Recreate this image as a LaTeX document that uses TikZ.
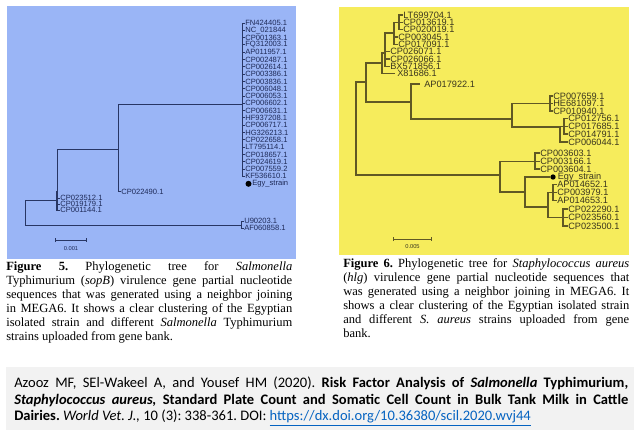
\documentclass[tikz,border=0pt]{standalone}
\usepackage{fontspec}
\usetikzlibrary{arrows.meta}
\setmainfont{Liberation Serif}
\newfontfamily\treefont{Liberation Sans}
\newfontfamily\citefont{Carlito}
\frenchspacing

\definecolor{panelblue}{RGB}{154,181,246}
\definecolor{panelyellow}{RGB}{246,236,92}
\definecolor{navyline}{RGB}{40,54,100}
\definecolor{navytext}{RGB}{30,42,88}
\definecolor{oliveline}{RGB}{96,88,36}
\definecolor{olivetext}{RGB}{58,54,30}
\definecolor{citegray}{RGB}{242,242,242}
\definecolor{linkblue}{RGB}{5,99,193}

\tikzset{
  bleaf/.style={font=\treefont\fontsize{5.7}{6}\selectfont, text=navytext, anchor=west, inner sep=0pt},
  yleaf/.style={font=\treefont\fontsize{6.9}{7}\selectfont, text=olivetext, anchor=west, inner sep=0pt},
  bbranch/.style={draw=navyline, line width=0.7pt},
  ybranch/.style={draw=oliveline, line width=0.9pt},
  egydot/.style={circle, fill=black, inner sep=0pt, minimum size=#1},
  scalebar/.style={{Bar[width=3pt]}-{Bar[width=3pt]}, line width=0.6pt},
  caption/.style={anchor=north west, inner sep=0pt, text width=214.5pt, align=justify,
    font=\fontsize{9.4}{10.5}\selectfont},
}

\begin{document}
\begin{tikzpicture}[x=0.75pt, y=-0.75pt]
	\useasboundingbox (0,0) rectangle (640,433);
	%draw panels
	\fill[panelblue] (7,6) rectangle (296,259);
	\fill[panelyellow] (339,7) rectangle (629,255);
	\fill[citegray] (6,367) rectangle (634,430);

	%Salmonella tree: leaves
	\foreach \lab [count=\i from 0] in {FN424405.1,NC\_021844,CP001363.1,FQ312003.1,AP011957.1,CP002487.1,CP002614.1,CP003386.1,CP003836.1,CP006048.1,CP006053.1,CP006602.1,CP006631.1,HF937208.1,CP006717.1,HG326213.1,CP022658.1,LT795114.1,CP018657.1,CP024619.1,CP007559.2,KF536610.1}
		\node[bleaf] (s\i) at (245,{23+7.3*\i}) {\lab};
	\node[egydot=4.5pt] (sdot) at (248.5,183.8) {};
	\node[bleaf] (segy) at (252,183.8) {Egy\_strain};
	\node[bleaf] (s490) at (121,191.5) {CP022490.1};
	\foreach \lab/\yy [count=\k] in {CP023512.1/198.3,CP019179.1/204.3,CP001144.1/210.3}
		\node[bleaf] (t\k) at (60,\yy) {\lab};
	\node[bleaf] (u1) at (244,221) {U90203.1};
	\node[bleaf] (u2) at (244,228) {AF060858.1};

	%Salmonella tree: branches
	\coordinate (sA) at (242,104);
	\coordinate (sB) at (118,149);
	\coordinate (sC) at (57,200.7);
	\coordinate (sD) at (241,225.5);
	\coordinate (sR) at (25,212);
	\draw[bbranch] (sR) |- (sC);
	\draw[bbranch] (sR) |- (sD);
	\draw[bbranch] (sC) |- (sB);
	\foreach \k in {1,2,3}
		\draw[bbranch] (sC) |- (t\k.west);
	\draw[bbranch, line width=1.4pt] (56.5,191) -- (56.5,211);
	\draw[bbranch] (sB) |- (sA);
	\draw[bbranch] (sB) |- (s490.west);
	\foreach \i in {0,...,21}
		\draw[bbranch] (sA) |- (s\i.west);
	\draw[bbranch] (sD) |- (u1.west);
	\draw[bbranch] (sD) |- (u2.west);

	%Salmonella scale bar
	\coordinate (sb1) at (55,240);
	\coordinate (sb2) at (87,240);
	\draw[scalebar, navyline] (sb1) -- (sb2);
	\node[font=\treefont\fontsize{4.3}{5}\selectfont, text=navytext] (sbl) at (71,248.5) {0.001};

	%Staphylococcus tree: leaves
	\foreach \lab/\yy [count=\k] in {LT699704.1/15,CP013619.1/22.3,CP020019.1/29.6}
		\node[yleaf] (ya\k) at (403,\yy) {\lab};
	\foreach \lab/\yy [count=\k] in {CP003045.1/37,CP017091.1/44.3}
		\node[yleaf] (yb\k) at (398,\yy) {\lab};
	\foreach \lab/\yy [count=\k] in {CP026071.1/51.6,CP026066.1/58.9,BX571856.1/66.2}
		\node[yleaf] (yc\k) at (390,\yy) {\lab};
	\node[yleaf] (yx) at (397,73.8) {X81686.1};
	\node[yleaf] (yap) at (424,84) {AP017922.1};
	\foreach \lab/\yy [count=\k] in {CP007659.1/96,HE681097.1/103.5,CP010940.1/111}
		\node[yleaf] (yd\k) at (553,\yy) {\lab};
	\foreach \lab/\yy [count=\k] in {CP012756.1/118.5,CP017685.1/126.2,CP014791.1/134}
		\node[yleaf] (ye\k) at (568,\yy) {\lab};
	\node[yleaf] (yf) at (568,142) {CP006044.1};
	\foreach \lab/\yy [count=\k] in {CP003603.1/153,CP003166.1/161.3,CP003604.1/169}
		\node[yleaf] (yg\k) at (540,\yy) {\lab};
	\node[egydot=4pt] (ydot) at (553,177) {};
	\node[yleaf] (yegy) at (557.5,177) {Egy\_strain};
	\foreach \lab/\yy [count=\k] in {AP014652.1/184.5,CP003979.1/192.3,AP014653.1/200.3}
		\node[yleaf] (yh\k) at (557,\yy) {\lab};
	\foreach \lab/\yy [count=\k] in {CP022290.1/209,CP023560.1/217.5,CP023500.1/226}
		\node[yleaf] (yi\k) at (568,\yy) {\lab};

	%Staphylococcus tree: branches
	\coordinate (yR) at (356,128);
	\coordinate (yP) at (366,82);
	\coordinate (yA1) at (382,63);
	\coordinate (yA2) at (385,53);
	\coordinate (yA3) at (394,33);
	\coordinate (yA4) at (399,22.3);
	\coordinate (yB) at (411,102);
	\coordinate (yC) at (512,119);
	\coordinate (yD) at (550,103.5);
	\coordinate (yE) at (560,127);
	\coordinate (yF) at (564,126.2);
	\coordinate (yG) at (500,175);
	\coordinate (yH) at (535,161.3);
	\coordinate (yI) at (525,192);
	\coordinate (yJ) at (548,207);
	\coordinate (yK) at (553,192.3);
	\coordinate (yL) at (563,217.5);
	\draw[ybranch] (yR) |- (yP);
	\draw[ybranch] (yR) |- (yG);
	\draw[ybranch] (yP) |- (yA1);
	\draw[ybranch] (yP) |- (yB);
	\draw[ybranch] (yA1) |- (yA2);
	\draw[ybranch] (yA1) |- ([xshift=-1.5pt]yx.west);
	\draw[ybranch] (yA2) |- (yA3);
	\foreach \k in {1,2,3}
		\draw[ybranch] (yA2) |- (yc\k.west);
	\draw[ybranch] (yA3) |- (yA4);
	\foreach \k in {1,2}
		\draw[ybranch] (yA3) |- (yb\k.west);
	\foreach \k in {1,2,3}
		\draw[ybranch] (yA4) |- (ya\k.west);
	\draw[ybranch] (yB) |- ([xshift=-3pt]yap.west);
	\draw[ybranch] (yB) |- (yC);
	\draw[ybranch] (yC) |- (yD);
	\draw[ybranch] (yC) |- (yE);
	\foreach \k in {1,2,3}
		\draw[ybranch] (yD) |- (yd\k.west);
	\draw[ybranch] (yE) |- (yF);
	\draw[ybranch] (yE) |- (yf.west);
	\foreach \k in {1,2,3}
		\draw[ybranch] (yF) |- (ye\k.west);
	\draw[ybranch] (yG) |- (yH);
	\draw[ybranch] (yG) |- (yI);
	\foreach \k in {1,2,3}
		\draw[ybranch] (yH) |- (yg\k.west);
	\draw[ybranch] (yI) |- (ydot.west);
	\draw[ybranch] (yI) |- (yJ);
	\draw[ybranch] (yJ) |- (yK);
	\draw[ybranch] (yJ) |- (yL);
	\foreach \k in {1,2,3}
		\draw[ybranch] (yK) |- (yh\k.west);
	\foreach \k in {1,2,3}
		\draw[ybranch] (yL) |- (yi\k.west);

	%Staphylococcus scale bar
	\coordinate (yb1) at (393,239);
	\coordinate (yb2) at (432,239);
	\draw[scalebar, oliveline] (yb1) -- (yb2);
	\node[font=\treefont\fontsize{4.3}{5}\selectfont, text=olivetext] (ybl) at (412.5,246.5) {0.005};

	%draw captions
	\node[caption] (cap5) at (6,261.5) {\textbf{Figure 5.} Phylogenetic tree for \textit{Salmonella}\linebreak
		Typhimurium (\textit{sopB}) virulence gene partial nucleotide\linebreak
		sequences that was generated using a neighbor joining\linebreak
		in MEGA6. It shows a clear clustering of the Egyptian\linebreak
		isolated strain and different \textit{Salmonella} Typhimurium\linebreak
		strains uploaded from gene bank.};
	\node[caption] (cap6) at (343,258.5) {\textbf{Figure 6.} Phylogenetic tree for \textit{Staphylococcus aureus}\linebreak
		(\textit{hlg}) virulence gene partial nucleotide sequences that\linebreak
		was generated using a neighbor joining in MEGA6. It\linebreak
		shows a clear clustering of the Egyptian isolated strain\linebreak
		and different \textit{S. aureus} strains uploaded from gene\linebreak
		bank.};

	%draw citation
	\node[anchor=north west, inner sep=0pt, text width=460.5pt, align=justify,
		font=\citefont\fontsize{10.9}{12.3}\selectfont] (cite) at (14,377)
		{Azooz MF, SEl-Wakeel A, and Yousef HM (2020). \textbf{Risk Factor Analysis of \textit{Salmonella} Typhimurium,}\linebreak
		\textbf{\textit{Staphylococcus aureus,} Standard Plate Count and Somatic Cell Count in Bulk Tank Milk in Cattle}\linebreak
		\textbf{Dairies.} \textit{World Vet. J.,} 10 (3): 338-361. DOI: \textcolor{linkblue}{\underline{https://dx.doi.org/10.36380/scil.2020.wvj44}}};
\end{tikzpicture}
\end{document}
